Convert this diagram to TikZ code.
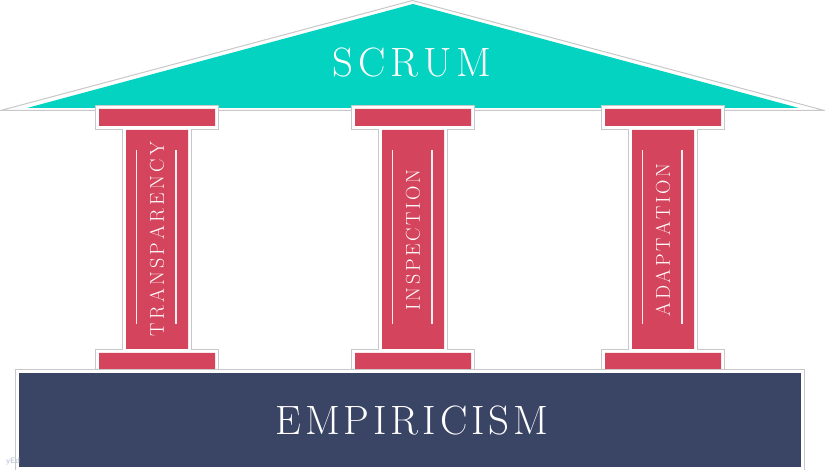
\documentclass[tikz,border=0pt]{standalone}
\usepackage{fontspec}
\definecolor{roofc}{HTML}{03D3C0}
\definecolor{pillarc}{HTML}{D4445C}
\definecolor{basec}{HTML}{3A4464}
\definecolor{edgec}{HTML}{C8C8C8}
\definecolor{markc}{HTML}{C4CCDD}
\makeatletter
\newcommand\spreadout[2]{\def\sp@gap{#1}\let\sp@first\relax\@tfor\sp@c:=#2\do{\sp@first\sp@c\def\sp@first{\hspace{\sp@gap}}}}
\makeatother
\tikzset{
  framed/.style={preaction={draw=edgec,line width=8pt},preaction={draw=white,line width=6pt}},
  bigtext/.style={text=white,font=\fontsize{41}{44}\selectfont},
  pillartext/.style={text=white,rotate=90,font=\fontsize{20}{22}\selectfont},
  groove/.style={draw=white!90!pillarc,line width=1.2pt}
}
\begin{document}
\begin{tikzpicture}[x=1pt,y=-1pt]
\useasboundingbox (0,0) rectangle (825,470);
% roof
\filldraw[draw=edgec,fill=white,line width=1pt] (0.5,110.5) -- (412.5,0.5) -- (824.5,110.5) -- cycle;
\fill[roofc] (27,108) -- (413,4) -- (799,108) -- cycle;
% pillars
\path[framed,fill=pillarc]
  \foreach \c in {157,413,663} {
    (\c-58,109) rectangle (\c+58,126)
    (\c-31,130) rectangle (\c+31,349)
    (\c-58,353) rectangle (\c+58,378)
  };
\foreach \c in {157,413,663} {
  \draw[groove] (\c-20.5,150) -- (\c-20.5,324);
  \draw[groove] (\c+19,150) -- (\c+19,324);
}
% base
\path[framed,fill=basec] (19,373) rectangle (801,467);
% texts
\node[bigtext] (scrum) at (412,63) {\spreadout{5pt}{SCRUM}};
\node[bigtext] (emp) at (412,420) {\spreadout{3.9pt}{EMPIRICISM}};
\node[pillartext] (t1) at (157,239) {\spreadout{3.3pt}{TRANSPARENCY}};
\node[pillartext] (t2) at (413,240) {\spreadout{2.6pt}{INSPECTION}};
\node[pillartext] (t3) at (663,240) {\spreadout{2.5pt}{ADAPTATION}};
\node[text=markc,font=\sffamily\bfseries\fontsize{8}{9}\selectfont] (mark) at (13,462) {yEd};
\end{tikzpicture}
\end{document}
